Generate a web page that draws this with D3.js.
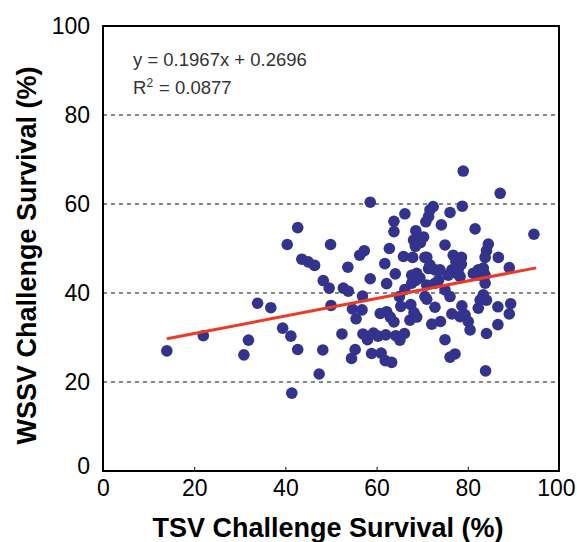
<!DOCTYPE html>
<html><head><meta charset="utf-8">
<script src="https://cdn.jsdelivr.net/npm/d3@7"></script>
<style>body{margin:0;background:#fff}svg{display:block}</style>
</head><body>
<svg id="c" width="577" height="542"></svg>
<script>
const tsv = [14.0,22.0,31.9,30.9,33.9,36.8,
40.4,42.7,43.6,45.0,46.4,39.4,41.2,42.7,41.4,49.9,48.3,49.6,50.0,48.2,47.4,
53.7,56.3,57.3,52.7,53.8,56.9,54.7,55.5,56.8,52.4,57.0,58.0,59.3,60.3,55.3,54.5,58.9,58.6,58.6,60.8,
61.0,61.9,63.3,62.0,64.2,65.1,66.1,62.2,63.0,63.8,65.3,67.5,68.2,67.3,68.8,62.2,64.1,65.0,66.2,67.7,67.7,68.5,69.5,
70.6,71.0,71.0,61.8,62.8,65.9,67.9,63.8,63.8,66.2,68.6,70.3,68.1,68.5,69.6,68.1,68.8,
71.7,72.4,71.4,70.8,74.2,76.1,78.8,79.0,75.0,70.6,71.4,72.8,71.0,71.7,73.9,76.8,77.4,77.9,76.5,78.3,78.6,78.6,
72.8,72.1,74.0,76.5,78.3,75.0,76.1,77.2,78.7,79.4,80.1,75.0,76.1,80.5,72.8,73.6,75.7,77.6,
81.2,82.7,83.4,81.6,87.1,94.5,84.5,84.1,83.8,86.7,82.3,83.4,83.8,89.1,83.8,83.4,82.7,84.1,82.3,86.6,89.4,89.1,84.1,86.6,83.9];
const wssv = [27.0,30.4,29.4,26.1,37.7,36.7,
50.9,54.7,47.6,47.0,46.2,32.1,30.3,27.3,17.5,50.9,42.8,41.1,37.2,27.2,21.8,
45.8,48.5,49.5,41.1,40.4,39.3,36.4,34.2,36.2,30.8,30.8,29.5,31.0,30.3,27.3,25.3,26.4,60.4,43.2,35.4,
26.5,24.8,24.4,30.6,30.4,29.4,30.9,35.8,34.6,33.5,37.0,37.4,35.6,33.9,34.6,42.1,44.3,39.2,40.8,42.2,44.0,42.8,43.4,
39.2,41.8,38.6,46.6,50.0,48.2,48.0,56.1,53.8,57.8,54.0,52.6,51.9,50.5,51.3,43.7,44.4,
58.7,59.4,57.2,56.0,55.3,58.1,59.5,67.4,50.8,48.0,45.5,45.2,48.0,46.3,45.2,48.5,47.0,45.2,45.2,43.7,48.0,46.5,
36.8,33.0,33.6,35.3,34.7,29.5,25.6,26.3,37.1,35.1,33.6,40.7,39.2,31.7,42.2,42.9,44.0,44.4,
44.4,44.0,44.8,54.4,62.4,53.2,51.0,49.5,48.0,48.0,45.2,45.6,44.0,45.7,42.2,39.6,38.4,38.4,36.6,36.9,37.6,35.3,30.9,32.9,22.5];
const xTicks = [0,20,40,60,80,100];
const yTicks = [0,20,40,60,80,100];
const gridVals = [20,40,60,80];
const slope = 0.1967, intercept = 26.96;
const fitRange = [14,95];
const eqText = "y = 0.1967x + 0.2696";
const r2Value = "= 0.0877";
const xTitle = "TSV Challenge Survival (%)";
const yTitle = "WSSV Challenge Survival (%)";

const svg = d3.select("#c");
const L=103,R=559,T=26,B=471;
const x = d3.scaleLinear().domain([0,100]).range([L,R]);
const y = d3.scaleLinear().domain([0,100]).range([B,T]);
const font = "'Liberation Sans', Arial, sans-serif";

// gridlines
svg.append("g").selectAll("line").data(gridVals).join("line")
  .attr("x1",L).attr("x2",R).attr("y1",d=>y(d)).attr("y2",d=>y(d))
  .attr("stroke","#111").attr("stroke-width",1.2).attr("stroke-dasharray","4,4");

// points
const pts = tsv.map((v,i)=>[v,wssv[i]]);
svg.append("g").selectAll("circle").data(pts).join("circle")
  .attr("cx",d=>x(d[0])).attr("cy",d=>y(d[1])).attr("r",5.8)
  .attr("fill","#33338e");

// fit line
svg.append("line")
  .attr("x1",x(fitRange[0])).attr("y1",y(slope*fitRange[0]+intercept))
  .attr("x2",x(fitRange[1])).attr("y2",y(slope*fitRange[1]+intercept))
  .attr("stroke","#ee3a24").attr("stroke-width",3);

// frame
svg.append("rect").attr("x",L).attr("y",T).attr("width",R-L).attr("height",B-T)
  .attr("fill","none").attr("stroke","#000").attr("stroke-width",2);

// axes
const xa = svg.append("g").attr("transform",`translate(0,${B})`)
  .call(d3.axisBottom(x).tickValues(xTicks).tickSize(-4).tickPadding(9).tickFormat(d3.format("d")));
xa.select(".domain").remove();
xa.selectAll("line").attr("stroke","#000");
xa.selectAll("text").attr("font-family",font).attr("font-size",23).attr("fill","#000");
xa.selectAll(".tick").filter(d=>d===0||d===100).select("line").remove();
xa.selectAll(".tick").filter(d=>d===100).select("text").attr("text-anchor","end").attr("x",16);

const ya = svg.append("g").attr("transform",`translate(${L},0)`)
  .call(d3.axisLeft(y).tickValues(yTicks).tickSize(0).tickPadding(13).tickFormat(d3.format("d")));
ya.select(".domain").remove();
ya.selectAll("text").attr("font-family",font).attr("font-size",23).attr("fill","#000");
ya.selectAll(".tick").filter(d=>d===0).select("text").attr("dy","0.1em");

// equation
svg.append("text").attr("x",133).attr("y",66).attr("font-family",font).attr("font-size",18.5)
  .attr("fill","#333").text(eqText);
const r2 = svg.append("text").attr("x",133).attr("y",94).attr("font-family",font).attr("font-size",18.5).attr("fill","#333");
r2.append("tspan").text("R");
r2.append("tspan").attr("dy",-7).attr("font-size",12).text("2");
r2.append("tspan").attr("dy",7).attr("dx",6).text(r2Value);

// titles
svg.append("text").attr("x",(L+R)/2-3).attr("y",537).attr("text-anchor","middle")
  .attr("font-family",font).attr("font-weight","bold").attr("font-size",27).text(xTitle);
svg.append("text").attr("transform",`translate(36,${(T+B)/2+7}) rotate(-90)`).attr("text-anchor","middle")
  .attr("font-family",font).attr("font-weight","bold").attr("font-size",27).text(yTitle);
</script>
</body></html>
